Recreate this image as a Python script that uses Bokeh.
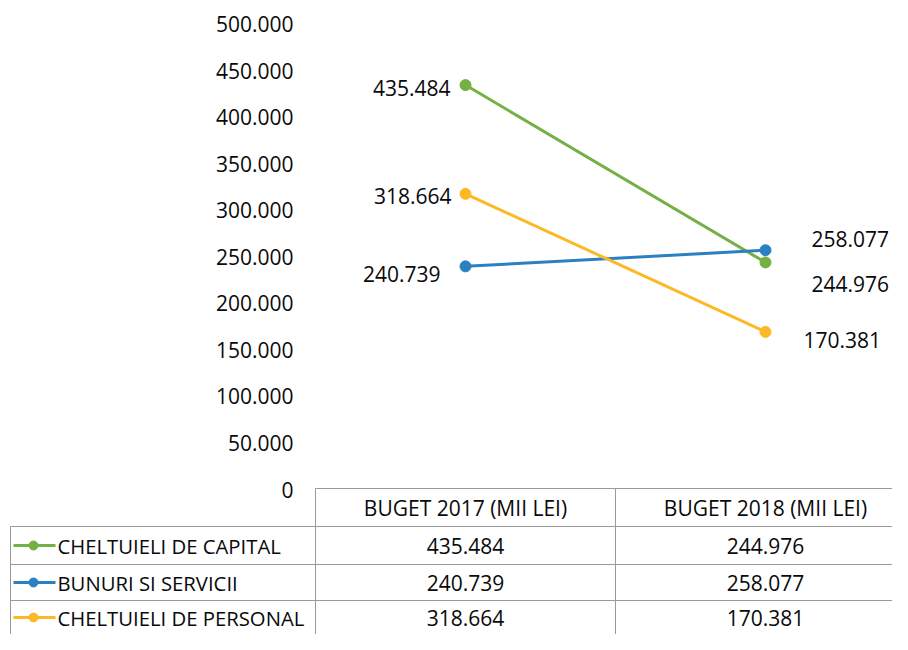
from bokeh.plotting import figure
from bokeh.models import Range1d, ColumnDataSource
from bokeh.core.properties import value
from bokeh.embed import file_html
from bokeh.resources import INLINE

# ---- data ----
categories = ["BUGET 2017 (MII LEI)", "BUGET 2018 (MII LEI)"]
series_names = ["CHELTUIELI DE CAPITAL", "BUNURI SI SERVICII", "CHELTUIELI DE PERSONAL"]
capital = [435484, 244976]
bunuri = [240739, 258077]
personal = [318664, 170381]
y_ticks = [0, 50000, 100000, 150000, 200000, 250000, 300000, 350000, 400000, 450000, 500000]

series_values = [capital, bunuri, personal]
colors = ["#74B044", "#2B80C2", "#FDB826"]

# label offsets in screen px (positive dy = down), per series: [2017, 2018]
label_dx = [[-15, 46], [-25, 46], [-14, 38]]
label_dy = [[3, 22], [8, -11], [2, 8]]


def fmt(v):
    return f"{v:,}".replace(",", ".")


W, H = 892, 634
FONT = value("Open Sans")
FS = "21px"
TXT = "#0a0a0a"

p = figure(width=W, height=H, output_backend="svg", toolbar_location=None,
           x_range=Range1d(-1.05, 1.92333), y_range=Range1d(-154672, 526316),
           min_border=0, x_axis_type=None, y_axis_type=None)
p.outline_line_color = None
p.grid.visible = False
p.extra_x_ranges = {"px": Range1d(0, W)}
p.extra_y_ranges = {"px": Range1d(H, 0)}

xcat = [0.5, 1.5]

# y tick labels
p.text(x=[293] * len(y_ticks), y=y_ticks, text=[fmt(t) for t in y_ticks],
       x_range_name="px", text_align="right", text_baseline="middle",
       text_font=FONT, text_font_size=FS, text_color=TXT, y_offset=-1)

# lines, markers, labels
for vals, col, dxs, dys in zip(series_values, colors, label_dx, label_dy):
    src = ColumnDataSource(dict(x=xcat, y=vals, t=[fmt(v) for v in vals],
                                dx=dxs, dy=dys, al=["right", "left"]))
    p.line("x", "y", source=src, line_color=col, line_width=3)
    p.scatter("x", "y", source=src, size=11, fill_color=col, line_color=col)
    p.text("x", "y", text="t", source=src, x_offset="dx", y_offset="dy",
           text_align="al", text_baseline="middle", text_font=FONT,
           text_font_size=FS, text_color=TXT)

# ---- data table (pixel coordinates) ----
grid_col = "#9a9a9a"
hy = [488, 526, 564, 600]
hx0 = [315, 10, 10, 10]
p.segment(x0=hx0, y0=hy, x1=[W] * 4, y1=hy, x_range_name="px", y_range_name="px",
          line_color=grid_col, line_width=1)
vx = [10, 315, 615]
vy0 = [526, 488, 488]
p.segment(x0=vx, y0=vy0, x1=vx, y1=[H] * 3, x_range_name="px", y_range_name="px",
          line_color=grid_col, line_width=1)

col_cx = [465, 765]
row_cy = [545, 582, 617]

p.text(x=col_cx, y=[507, 507], text=categories, x_range_name="px", y_range_name="px",
       text_align="center", text_baseline="middle", text_font=FONT,
       text_font_size=FS, text_color=TXT)

for i, (name, vals, col) in enumerate(zip(series_names, series_values, colors)):
    cy = row_cy[i]
    p.text(x=col_cx, y=[cy, cy], text=[fmt(v) for v in vals], x_range_name="px",
           y_range_name="px", text_align="center", text_baseline="middle",
           text_font=FONT, text_font_size=FS, text_color=TXT)
    p.segment(x0=[13], y0=[cy], x1=[55], y1=[cy], x_range_name="px", y_range_name="px",
              line_color=col, line_width=3)
    p.scatter(x=[33], y=[cy], x_range_name="px", y_range_name="px", size=9,
              fill_color=col, line_color=col)
    p.text(x=[57], y=[cy], text=[name], x_range_name="px", y_range_name="px",
           text_align="left", text_baseline="middle", text_font=FONT,
           text_font_size="20.3px", text_color=TXT)

open("out.html", "w").write(file_html(p, INLINE))
